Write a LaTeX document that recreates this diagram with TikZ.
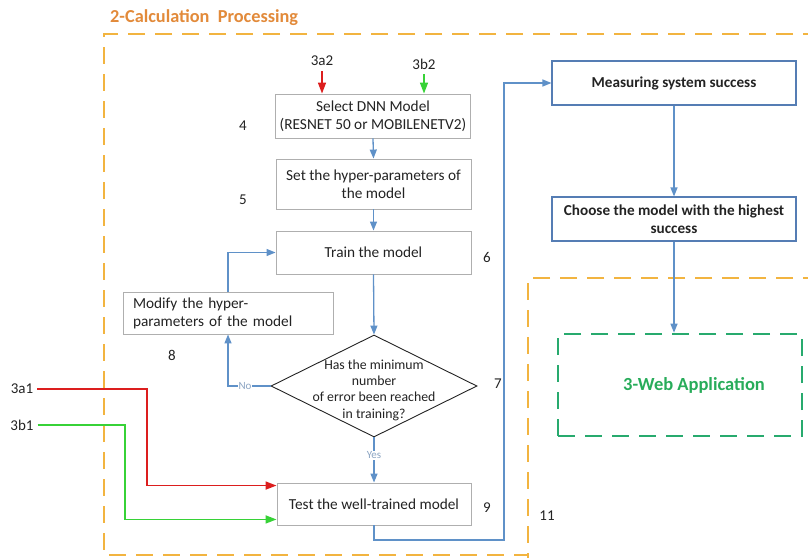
\documentclass[tikz,border=0pt]{standalone}
\usepackage{fontspec}
\setmainfont{Carlito}
\usetikzlibrary{shapes.geometric,arrows.meta,calc}
\definecolor{orng}{RGB}{242,180,64}
\definecolor{ttl}{RGB}{226,138,58}
\definecolor{bl}{RGB}{95,145,200}
\definecolor{boxgray}{RGB}{175,175,175}
\definecolor{bbord}{RGB}{85,125,180}
\definecolor{grd}{RGB}{40,170,110}
\definecolor{grt}{RGB}{40,172,90}
\definecolor{rd}{RGB}{220,30,30}
\definecolor{gn}{RGB}{55,210,55}
\definecolor{txt}{RGB}{35,35,35}
\definecolor{lblc}{RGB}{140,165,195}
\begin{document}
\begin{tikzpicture}[x=1pt,y=-1pt,
  box/.style={draw=boxgray, line width=0.9pt, fill=white, minimum width=195pt, minimum height=43pt, inner sep=0pt, align=center, font=\fontsize{15.3}{18}\selectfont, text=txt},
  bbox/.style={draw=bbord, line width=1.1pt, fill=white, minimum width=244pt, minimum height=44pt, inner sep=0pt, align=center, font=\bfseries\fontsize{15.2}{18}\selectfont, text=txt},
  num/.style={font=\fontsize{15}{17}\selectfont, text=txt, inner sep=0pt},
  barrow/.style={draw=bl, line width=1.3pt, -{Triangle[length=9pt,width=7pt]}},
  rarrow/.style={draw=rd, line width=1.6pt, -{Triangle[length=11pt,width=8pt]}},
  garrow/.style={draw=gn, line width=1.6pt, -{Triangle[length=11pt,width=8pt]}},
  lbl/.style={font=\fontsize{11}{12}\selectfont, text=lblc, fill=white, inner sep=1pt},
  odash/.style={draw=orng, line width=2.6pt, dash pattern=on 17pt off 10pt},
  gdash/.style={draw=grd, line width=2.6pt, dash pattern=on 17pt off 10pt},
]
\useasboundingbox (0,0) rectangle (808,557);
\begin{scope}
\clip (0,0) rectangle (808,557);
% region outlines
\draw[odash] (820,34) -- (104,34) -- (104,555) -- (528,555);
\draw[odash] (820,278) -- (528,278) -- (528,570);
\end{scope}
\node[font=\bfseries\fontsize{18.3}{20}\selectfont, text=ttl, anchor=west, inner sep=0pt] (title) at (110,18) {2-Calculation\ \ Processing};

% main flow boxes
\node[box, minimum height=44pt] (sel) at (373,116) {Select DNN Model\\(RESNET 50 or MOBILENETV2)};
\node[box, minimum height=50pt] (set) at (373.5,184) {Set the hyper-parameters of\\the model};
\node[box] (train) at (373.5,252.5) {Train the model};
\node[box, minimum width=210pt, minimum height=42pt, align=left, text width=190pt] (mod) at (228,313) {Modify the hyper-\\parameters of the model};
\node[diamond, draw=txt, line width=0.9pt, fill=white, minimum width=206pt, minimum height=102pt, inner sep=0pt] (dec) at (374,386) {};
\node[font=\fontsize{13.8}{16.3}\selectfont, text=txt, align=center, inner sep=0pt] (dectext) at (374,390) {Has the minimum\\number\\of error been reached\\in training?};
\node[box, minimum width=194pt, minimum height=42pt] (test) at (374,504) {Test the well-trained model};

\node[bbox] (meas) at (674,83) {Measuring system success};
\node[bbox] (choose) at (674,219) {Choose the model with the highest\\success};

\node[gdash, minimum width=244pt, minimum height=102pt, inner sep=0pt] (web) at (680,385) {};
\node[font=\bfseries\fontsize{18.5}{20}\selectfont, text=grt, inner sep=0pt] (webtitle) at (694,385) {3-Web Application};

% numbers
\node[num] (n4) at (243,126) {4};
\node[num] (n5) at (243,200) {5};
\node[num] (n6) at (487,257) {6};
\node[num] (n7) at (498,384) {7};
\node[num] (n8) at (172,355) {8};
\node[num] (n9) at (487,508) {9};
\node[num] (n11) at (547,516) {11};

% input labels
\node[num] (l3a2) at (322,61) {3a2};
\node[num] (l3b2) at (424,64) {3b2};
\node[num] (l3a1) at (22,389) {3a1};
\node[num] (l3b1) at (22,425) {3b1};

% connectors
\draw[barrow] (sel.south) -- (set.north);
\draw[barrow] (set.south) -- (train.north);
\draw[barrow] (train.south) -- (dec.north);
\draw[barrow] (dec.west) -| node[pos=0.3, lbl] {No} (mod.south);
\draw[barrow] (mod.north) |- (train.west);
\draw[barrow] (dec.south) -- node[pos=0.4, lbl] {Yes} (test.north);
\coordinate (c1) at (504,540);
\draw[barrow] (test.south) |- (c1) |- (meas.west);
\draw[barrow] (meas.south) -- (choose.north);
\draw[barrow] (choose.south) -- (choose.south |- web.north);

\draw[rarrow] ($(l3a2.south)+(0,5)$) -- (l3a2.south |- sel.north);
\draw[garrow] ($(l3b2.south)+(0,5)$) -- (l3b2.south |- sel.north);

\coordinate (ra) at (147,389);
\coordinate (rb) at ($(test.north west)+(0,3)$);
\draw[rarrow] (l3a1.east) ++(4,0) -- (ra) |- (rb);
\coordinate (ga) at (125,425);
\coordinate (gb) at ($(test.south west)+(0,-6)$);
\draw[garrow] (l3b1.east) ++(4,0) -- (ga) |- (gb);
\end{tikzpicture}
\end{document}
